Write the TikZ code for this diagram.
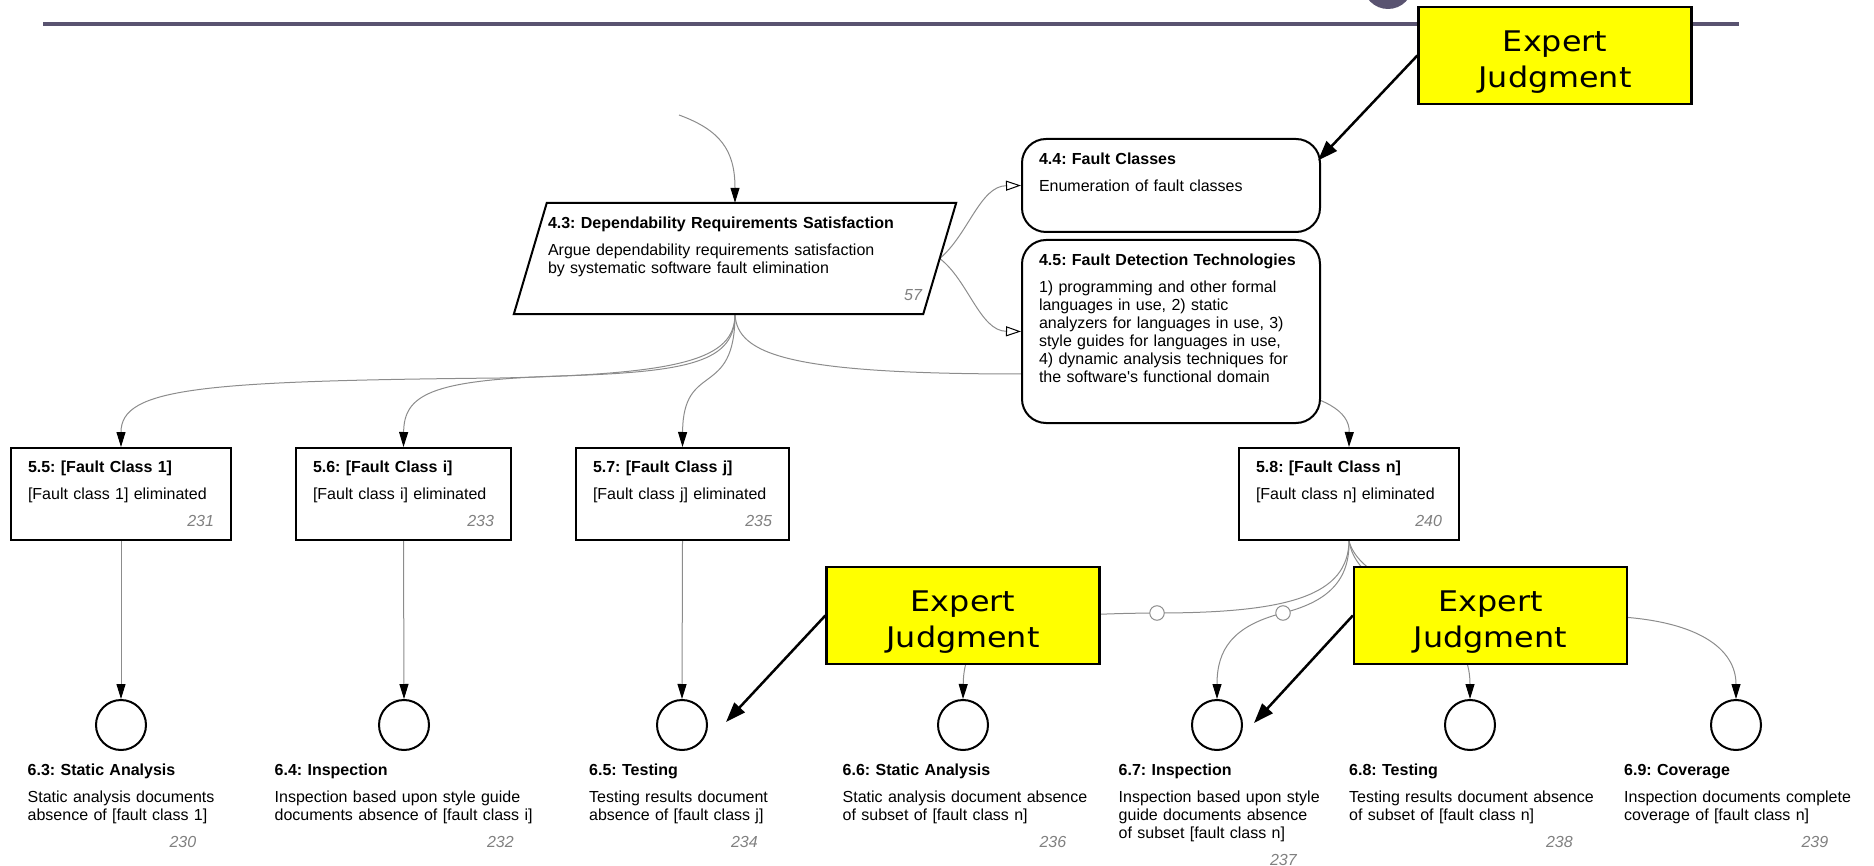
\documentclass[tikz,border=0pt]{standalone}
\usepackage{fontspec}
\setmainfont{Liberation Sans}
\newfontfamily\ejfont{DejaVu Sans}[FakeStretch=1.12]
\usetikzlibrary{arrows.meta,backgrounds}
\frenchspacing

\definecolor{slate}{RGB}{89,83,112}
\definecolor{ejyellow}{RGB}{255,255,0}
\definecolor{edgegray}{RGB}{140,140,140}
\definecolor{numgray}{RGB}{128,128,128}
\newcommand{\gsnfont}{\fontsize{16}{18}\selectfont}
\newcommand{\gsnnum}[1]{\hfill{\color{numgray}\itshape #1}\hspace*{2pt}}
\newcommand{\lblnum}[2]{\makebox[#1][r]{\color{numgray}\itshape #2}}

\begin{document}
\begin{tikzpicture}
        [x=1pt, y=-1pt,
        goal/.style={draw, line width=2pt, fill=white, inner xsep=17pt, inner ysep=0pt, align=left, font=\gsnfont, minimum height=92pt},
        context/.style={goal, rounded corners=24pt, text width=264pt, minimum width=298pt},
        strategy/.style={inner xsep=17.5pt, inner ysep=0pt, align=left, font=\gsnfont, text width=374pt, minimum height=111pt},
        solution/.style={circle, draw, line width=2pt, fill=white, minimum size=50pt, inner sep=0pt},
        sollabel/.style={anchor=north west, inner sep=0pt, align=left, font=\gsnfont, text width=280pt},
        expert/.style={draw, line width=2.3pt, fill=ejyellow, align=center, minimum width=273pt, minimum height=97pt, inner sep=0pt, font=\ejfont\fontsize{28.4}{36}\selectfont},
        ring/.style={circle, draw, line width=1pt, fill=white, minimum size=14.5pt, inner sep=0pt},
        edge/.style={edgegray, line width=1pt, -{Triangle[length=15pt, width=9pt, color=black]}},
        ctxedge/.style={edgegray, line width=1pt, -{Triangle[color=black, open, length=15pt, width=10pt]}},
        support/.style={black, line width=2.5pt, -{Triangle[length=20pt, width=14pt]}}]

        \useasboundingbox (0,0) rectangle (1874,866);

        % header bar
        \draw[slate, line width=4pt] (43,24) -- (1739,24);
        \fill[slate] (1388,-16) circle (25pt);

        % strategy
        \node[strategy] (g43) at (735,258.5) {\textbf{4.3: Dependability Requirements Satisfaction}\\[9pt]
          Argue dependability requirements satisfaction\\by systematic software fault elimination\\[9pt]\gsnnum{57}};
        \draw[line width=2pt] ([xshift=16.5pt]g43.north west) -- ([xshift=16.5pt]g43.north east)
          -- ([xshift=-16.5pt]g43.south east) -- ([xshift=-16.5pt]g43.south west) -- cycle;

        % contexts
        \node[context, minimum height=93pt] (g44) at (1171,185.5) {\textbf{4.4: Fault Classes}\\[9pt]
          Enumeration of fault classes\\[9pt]\mbox{}};
        \node[context, minimum height=183pt] (g45) at (1171,331.5) {\textbf{4.5: Fault Detection Technologies}\\[9pt]
          1) programming and other formal\\languages in use, 2) static\\analyzers for languages in use, 3)\\
          style guides for languages in use,\\4) dynamic analysis techniques for\\the software\textquotesingle s functional domain\\[9pt]\mbox{}};

        % goals
        \node[goal, text width=186pt] (g55) at (121,494) {\textbf{5.5: [Fault Class 1]}\\[9pt][Fault class 1] eliminated\\[9pt]\gsnnum{231}};
        \node[goal, text width=181pt] (g56) at (403.5,494) {\textbf{5.6: [Fault Class i]}\\[9pt][Fault class i] eliminated\\[9pt]\gsnnum{233}};
        \node[goal, text width=179pt] (g57) at (682.5,494) {\textbf{5.7: [Fault Class j]}\\[9pt][Fault class j] eliminated\\[9pt]\gsnnum{235}};
        \node[goal, text width=186pt] (g58) at (1349,494) {\textbf{5.8: [Fault Class n]}\\[9pt][Fault class n] eliminated\\[9pt]\gsnnum{240}};

        % expert judgment boxes
        \node[expert] (ej1) at (1555,55.5) {\rule{0pt}{34pt}Expert\\Judgment};
        \node[expert] (ej2) at (963,615.5) {\rule{0pt}{34pt}Expert\\Judgment};
        \node[expert] (ej3) at (1490.5,615.5) {\rule{0pt}{34pt}Expert\\Judgment};

        % solutions
        \node[solution] (s63) at (121,725) {};
        \node[solution] (s64) at (404,725) {};
        \node[solution] (s65) at (682,725) {};
        \node[solution] (s66) at (963,725) {};
        \node[solution] (s67) at (1217,725) {};
        \node[solution] (s68) at (1470,725) {};
        \node[solution] (s69) at (1736,725) {};

        % solution labels
        \node[sollabel] (l63) at (27.5,764) {\textbf{6.3: Static Analysis}\\[9pt]Static analysis documents\\absence of [fault class 1]\\[9pt]\lblnum{168.5pt}{230}};
        \node[sollabel] (l64) at (274.5,764) {\textbf{6.4: Inspection}\\[9pt]Inspection based upon style guide\\documents absence of [fault class i]\\[9pt]\lblnum{239pt}{232}};
        \node[sollabel] (l65) at (589,764) {\textbf{6.5: Testing}\\[9pt]Testing results document\\absence of [fault class j]\\[9pt]\lblnum{168.5pt}{234}};
        \node[sollabel] (l66) at (842.5,764) {\textbf{6.6: Static Analysis}\\[9pt]Static analysis document absence\\of subset of [fault class n]\\[9pt]\lblnum{223.5pt}{236}};
        \node[sollabel] (l67) at (1118.5,764) {\textbf{6.7: Inspection}\\[9pt]Inspection based upon style\\guide documents absence\\of subset [fault class n]\\[9pt]\lblnum{178pt}{237}};
        \node[sollabel] (l68) at (1349,764) {\textbf{6.8: Testing}\\[9pt]Testing results document absence\\of subset of [fault class n]\\[9pt]\lblnum{223.5pt}{238}};
        \node[sollabel] (l69) at (1624,764) {\textbf{6.9: Coverage}\\[9pt]Inspection documents complete\\coverage of [fault class n]\\[9pt]\lblnum{204pt}{239}};

        % expert judgment links
        \draw[support] (ej1.west) -- ([xshift=-3pt,yshift=25pt]g44.east);
        \draw[support] (ej2.west) -- ([xshift=18pt,yshift=3pt]s65.east);
        \draw[support] (ej3.west) -- ([xshift=11pt,yshift=2pt]s67.east);

        \begin{pgfonlayer}{background}
        % incoming link
        \coordinate (top43) at (679,115);
        \draw[edge] (top43) .. controls (720,130) and (735,150) .. (g43.north);
        % context links
        \draw[ctxedge] (g43.east) .. controls (968,235) and (980,186) .. (g44.west);
        \draw[ctxedge] (g43.east) .. controls (968,280) and (980,331) .. (g45.west);
        % strategy to goals
        \draw[edge] (g43.south) .. controls (735,360) and (680,374) .. (500,378) .. controls (200,381) and (121,388) .. (g55.north);
        \draw[edge] (g43.south) .. controls (735,362) and (690,372) .. (560,376) .. controls (430,380) and (404,395) .. (g56.north);
        \draw[edge] (g43.south) .. controls (735,400) and (683,360) .. (g57.north);
        \draw[edge] (g43.south) .. controls (737,355) and (790,374) .. (1022,374) .. controls (1250,374) and (1350,390) .. (g58.north);
        % goals to solutions
        \draw[edge] (g55.south) -- (s63.north);
        \draw[edge] (g56.south) -- (s64.north);
        \draw[edge] (g57.south) -- (s65.north);
        \draw[edge] (g58.south) .. controls (1348,595) and (1290,613) .. (1157,613) node[ring] (r66) {}
          .. controls (1000,614) and (964,630) .. (s66.north);
        \draw[edge] (g58.south) .. controls (1350,585) and (1322,603) .. (1283,613) node[ring] (r67) {}
          .. controls (1232,626) and (1217,650) .. (s67.north);
        \draw[edge] (g58.south) .. controls (1358,600) and (1470,605) .. (s68.north);
        \draw[edge] (g58.south) .. controls (1358,575) and (1420,612) .. (1600,616)
          .. controls (1700,618) and (1736,650) .. (s69.north);
        \end{pgfonlayer}

\end{tikzpicture}
\end{document}
